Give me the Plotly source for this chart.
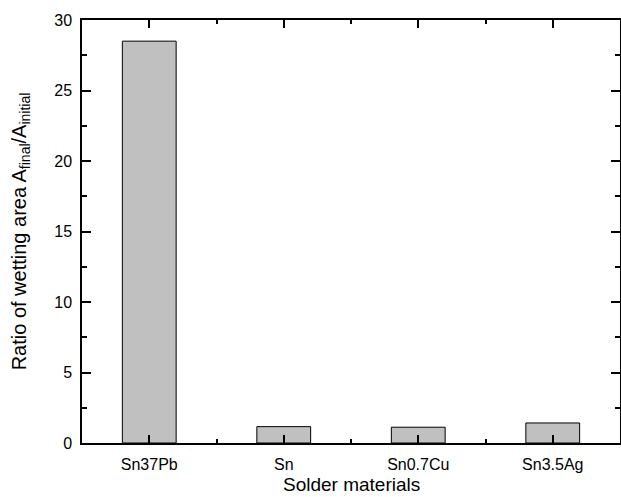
import plotly.graph_objects as go

categories = ["Sn37Pb", "Sn", "Sn0.7Cu", "Sn3.5Ag"]
ratio_values = [28.5, 1.16, 1.12, 1.42]
y_tick_values = [0, 5, 10, 15, 20, 25, 30]

positions = list(range(len(categories)))

fig = go.Figure(go.Bar(
    x=positions, y=ratio_values, width=0.4,
    marker=dict(color="#c0c0c0", line=dict(color="black", width=1)),
))

font = "Liberation Sans, Arial, sans-serif"
fig.update_layout(
    width=621, height=497,
    margin=dict(l=82, r=1, t=20, b=54),
    plot_bgcolor="white", paper_bgcolor="white",
    showlegend=False,
    font=dict(family=font, size=16, color="black"),
    xaxis=dict(
        range=[-0.5, 3.5], tickmode="array", tickvals=positions, ticktext=categories,
        ticks="inside", ticklen=8, tickwidth=1.5, tickcolor="black",
        minor=dict(tickmode="array", tickvals=[0.5, 1.5, 2.5], ticks="inside", ticklen=4, tickwidth=1.5, tickcolor="black"),
        showline=True, linecolor="black", linewidth=1.5, mirror="ticks",
        showgrid=False, zeroline=False,
        ticklabelstandoff=6,
        tickfont=dict(size=16),
        automargin=False,
    ),
    yaxis=dict(
        range=[0, 30], tickmode="array", tickvals=y_tick_values,
        ticks="inside", ticklen=9, tickwidth=1.5, tickcolor="black",
        minor=dict(dtick=2.5, ticks="inside", ticklen=5, tickwidth=1.5, tickcolor="black"),
        showline=True, linecolor="black", linewidth=1.5, mirror="ticks",
        showgrid=False, zeroline=False,
        ticklabelstandoff=5,
        title=dict(text="Ratio of wetting area A<sub>final</sub>/A<sub>initial</sub>", font=dict(size=20), standoff=22),
        tickfont=dict(size=16),
        automargin=False,
    ),
    annotations=[dict(
        text="Solder materials", xref="paper", yref="paper", x=0.5, y=-0.1277,
        xanchor="center", yanchor="bottom", showarrow=False, font=dict(size=19),
    )],
)

fig.write_html("out.html")
